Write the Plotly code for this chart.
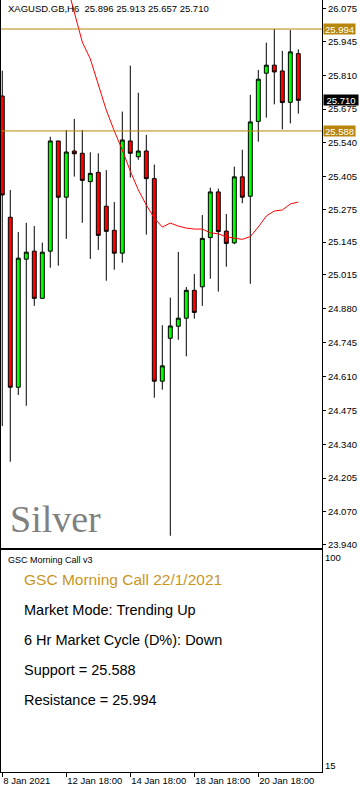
import plotly.graph_objects as go

# ---------------- data ----------------
symbol = "XAGUSD.GB,H6"
opens = [25.727, 25.244, 24.567, 25.077, 25.109, 24.921, 25.109, 25.548, 25.324, 25.508,
         25.499, 25.386, 25.423, 25.288, 25.192, 25.101, 25.548, 25.485, 25.508, 25.398,
         24.591, 24.762, 24.810, 24.842, 24.953, 24.967, 25.163, 25.345, 25.189, 25.142,
         25.405, 25.328, 25.626, 25.818, 25.850, 25.827, 25.702, 25.896]
highs = [25.828, 25.353, 25.185, 25.222, 25.209, 25.143, 25.565, 25.548, 25.592, 25.636,
         25.592, 25.503, 25.499, 25.432, 25.305, 25.665, 25.848, 25.740, 25.572, 25.454,
         24.814, 24.924, 25.106, 24.966, 25.018, 25.253, 25.362, 25.358, 25.257, 25.446,
         25.513, 25.732, 25.831, 25.940, 25.994, 25.907, 25.990, 25.913]
lows = [24.412, 24.270, 24.536, 24.493, 24.891, 24.921, 25.043, 25.051, 25.158, 25.406,
        25.222, 25.078, 25.114, 24.991, 25.035, 25.063, 25.402, 25.473, 25.175, 24.525,
        24.557, 23.975, 24.756, 24.690, 24.840, 24.891, 24.999, 24.948, 25.047, 25.137,
        25.300, 24.979, 25.545, 25.641, 25.694, 25.594, 25.618, 25.657]
closes = [25.333, 24.567, 25.081, 25.105, 24.921, 25.105, 25.548, 25.324, 25.504, 25.497,
          25.391, 25.419, 25.172, 25.188, 25.101, 25.552, 25.499, 25.508, 25.398, 24.591,
          24.652, 24.811, 24.842, 24.953, 24.865, 25.160, 25.345, 25.187, 25.140, 25.405,
          25.324, 25.624, 25.794, 25.850, 25.823, 25.701, 25.903, 25.710]
moving_avg = [None] * 8 + [26.180, 26.060, 25.942, 25.875, 25.771, 25.671, 25.588, 25.512,
              25.428, 25.353, 25.293, 25.241, 25.205, 25.221, 25.209, 25.201, 25.197, 25.197,
              25.182, 25.178, 25.166, 25.160, 25.156, 25.167, 25.205, 25.249, 25.269, 25.273,
              25.297, 25.305]
support = 25.588
resistance = 25.994
price_ticks = [26.075, 25.945, 25.810, 25.675, 25.540, 25.405, 25.275, 25.145, 25.015,
               24.880, 24.745, 24.610, 24.475, 24.340, 24.205, 24.070, 23.940]
time_tick_idx = [0, 8, 16, 24, 32]
time_tick_labels = ["8 Jan 2021", "12 Jan 18:00", "14 Jan 18:00", "18 Jan 18:00", "20 Jan 18:00"]
panel_levels = [15, 100]
panel_title = "GSC Morning Call v3"
call_title = "GSC Morning Call 22/1/2021"
call_lines = ["Market Mode: Trending Up", "6 Hr Market Cycle (D%): Down",
              "Support = 25.588", "Resistance = 25.994"]
watermark = "Silver"

# ---------------- layout helpers ----------------
W, H = 361, 789
ML, MR, MT, MB = 1, 39, 0, 17
PW, PH = W - ML - MR, H - MT - MB


def px(x_abs):
    return (x_abs - ML) / PW


def py(y_abs):
    return 1 - (y_abs - MT) / PH


FONT = "Liberation Sans, Arial, sans-serif"
GOLD = "#B8860B"
idx = list(range(len(opens)))

fig = go.Figure()
fig.add_trace(go.Candlestick(
    x=idx, open=opens, high=highs, low=lows, close=closes,
    increasing=dict(line=dict(color="black", width=1), fillcolor="#00FF00"),
    decreasing=dict(line=dict(color="black", width=1), fillcolor="#FF0000"),
    whiskerwidth=0, hoverinfo="skip", showlegend=False, xaxis="x", yaxis="y",
))
fig.add_trace(go.Scatter(
    x=idx, y=moving_avg, mode="lines", line=dict(color="#FF0000", width=1),
    hoverinfo="skip", showlegend=False, xaxis="x", yaxis="y",
))
fig.add_trace(go.Scatter(
    x=[None], y=[None], mode="lines", showlegend=False, xaxis="x2", yaxis="y2",
))

main_bottom = 547.5
panel_top = 549.5

axis_common = dict(showgrid=False, zeroline=False, showline=True, linecolor="black",
                   linewidth=1, mirror=True)

fig.update_layout(
    width=W, height=H,
    margin=dict(l=ML, r=MR, t=MT, b=MB, pad=0),
    paper_bgcolor="white", plot_bgcolor="white",
    font=dict(family=FONT, size=10, color="black"),
    showlegend=False,
    xaxis=dict(domain=[0, 1], anchor="y", range=[-0.16, 39.96], showticklabels=False,
               ticks="", rangeslider=dict(visible=False), **axis_common),
    yaxis=dict(domain=[py(main_bottom), 1], anchor="x", side="right",
               range=[26.075 - (main_bottom - 8.7) / 251, 26.075 + 8.7 / 251],
               tickvals=price_ticks, ticktext=[f"{v:.3f}" for v in price_ticks],
               ticks="outside", ticklen=3, tickcolor="black",
               tickfont=dict(family=FONT, size=9.5, color="black"), **axis_common),
    xaxis2=dict(domain=[0, 1], anchor="y2", matches="x", range=[-0.16, 39.96],
                tickvals=time_tick_idx, ticktext=time_tick_labels, ticks="outside",
                ticklen=4, tickcolor="black", ticklabelposition="outside right",
                tickfont=dict(family=FONT, size=9.5, color="black"), **axis_common),
    yaxis2=dict(domain=[0, py(panel_top)], anchor="x2", side="right", range=[12.6, 103.3],
                tickvals=panel_levels, ticktext=[str(v) for v in panel_levels],
                ticks="", tickfont=dict(family=FONT, size=9.5, color="black"), **axis_common),
)

# support / resistance lines
for lvl in (resistance, support):
    fig.add_shape(type="line", xref="x domain", x0=0, x1=1, yref="y", y0=lvl, y1=lvl,
                  line=dict(color=GOLD, width=1))

annotations = []
# price labels on the right axis
for lvl, bg in ((resistance, GOLD), (support, GOLD), (closes[-1], "black")):
    annotations.append(dict(
        xref="paper", x=1, xanchor="left", xshift=1, yref="y", y=lvl, yanchor="middle",
        text=f"{lvl:.3f}", showarrow=False, bgcolor=bg, borderpad=0,
        width=34 if bg == "black" else 31, height=10,
        font=dict(family=FONT, size=9.5, color="white"), align="center"))

# header
header = (symbol + "\u00a0\u00a0" + "\u00a0".join(
    f"{v:.3f}" for v in (opens[-1], highs[-1], lows[-1], closes[-1])))
annotations.append(dict(xref="paper", yref="paper", x=px(6), y=py(8.5), xanchor="left",
                        yanchor="middle", text=header, showarrow=False,
                        font=dict(family=FONT, size=9.5, color="black")))
# watermark
annotations.append(dict(xref="paper", yref="paper", x=px(8), y=py(519), xanchor="left",
                        yanchor="middle", text=watermark, showarrow=False,
                        font=dict(family="Liberation Serif, Times New Roman, serif",
                                  size=38, color="#808080")))
# indicator panel texts
annotations.append(dict(xref="paper", yref="paper", x=px(6), y=py(560), xanchor="left",
                        yanchor="middle", text=panel_title, showarrow=False,
                        font=dict(family=FONT, size=9, color="black")))
annotations.append(dict(xref="paper", yref="paper", x=px(21.5), y=py(579.5), xanchor="left",
                        yanchor="middle", text=call_title, showarrow=False,
                        font=dict(family=FONT, size=15.5, color="#C8961E")))
for i, line in enumerate(call_lines):
    annotations.append(dict(xref="paper", yref="paper", x=px(21.5), y=py(609.5 + 30.3 * i),
                            xanchor="left", yanchor="middle", text=line, showarrow=False,
                            font=dict(family=FONT, size=14.5, color="black")))

fig.update_layout(annotations=annotations)
fig.write_html("out.html", config={"displayModeBar": False},
               post_script="document.body.style.margin='0';"
                           "document.body.style.overflow='hidden';")
